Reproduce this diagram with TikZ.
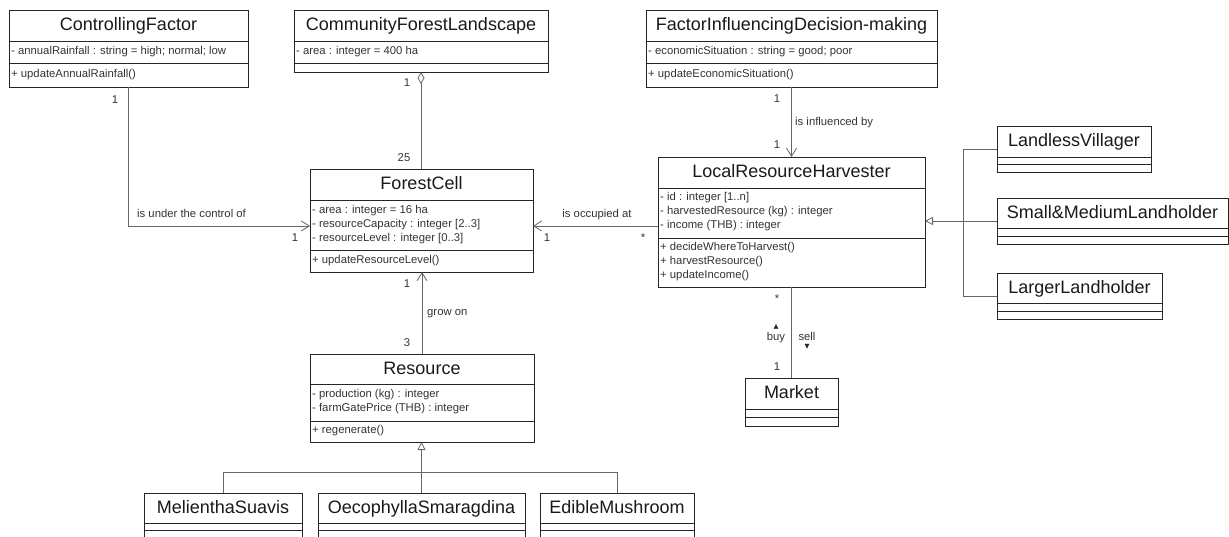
\documentclass[tikz,border=0pt]{standalone}
\usepackage{fontspec}
\setmainfont{Liberation Sans}
\newfontfamily\symbolfont{DejaVu Sans}
\usetikzlibrary{arrows.meta}

% class box: name, left, top, right, first rule, second rule, bottom, title
\newcommand{\umlclass}[8]{%
  \node[classbox, minimum width={#4pt-#2pt}, minimum height={#7pt-#3pt}] (#1) at ({(#2+#4)/2},{(#3+#7)/2}) {};
  \draw[sepline] (#2,#5) -- (#4,#5);
  \draw[sepline] (#2,#6) -- (#4,#6);
  \node[classname] (#1-name) at ({(#2+#4)/2},{(#3+#5)/2}) {#8};
}

\begin{document}
\begin{tikzpicture}[x=1pt, y=-1pt,
  classbox/.style={draw=black!85, line width=0.9pt, inner sep=0pt, outer sep=0pt},
  sepline/.style={draw=black!85, line width=0.9pt},
  classname/.style={inner sep=0pt, text height=13pt, text depth=2.4pt, font=\fontsize{18}{20}\selectfont, text=black!90},
  members/.style={anchor=west, align=left, inner sep=0pt, font=\fontsize{11.3}{14}\selectfont, text=black!80},
  linktext/.style={inner sep=0pt, font=\fontsize{11.3}{13}\selectfont, text=black!80},
  tick/.style={inner sep=0pt, font=\symbolfont\fontsize{6.5}{7}\selectfont, text=black!85},
  link/.style={draw=black!60, line width=0.8pt},
  assoc/.style={link, -{Straight Barb[length=8pt,width=10pt]}},
  aggr/.style={link, {Diamond[open,length=12pt,width=7pt]}-},
  inherit/.style={link, -{Triangle[open,length=8pt,width=8pt]}}
]
\useasboundingbox (0,0) rectangle (1229,537);
\clip (0,0) rectangle (1229,537);

% Top row
\umlclass{cf}{9}{10}{248}{41}{63}{87}{ControllingFactor}
\node[members] (cf-attr) at (11,52) {- annualRainfall : string = high; normal; low};
\node[members] (cf-ops) at (11,75) {+ updateAnnualRainfall()};

\umlclass{cfl}{294}{10}{548}{41}{63}{72}{CommunityForestLandscape}
\node[members] (cfl-attr) at (296,52) {- area : integer = 400 ha};

\umlclass{fid}{646}{10}{937}{41}{63}{87}{FactorInfluencingDecision-making}
\node[members] (fid-attr) at (648,52) {- economicSituation : string = good; poor};
\node[members] (fid-ops) at (648,75) {+ updateEconomicSituation()};

% Middle row
\umlclass{fc}{310}{169}{533}{200}{250}{272}{ForestCell}
\node[members] (fc-attr) at (312,225) {- area : integer = 16 ha\\- resourceCapacity : integer [2..3]\\- resourceLevel : integer [0..3]};
\node[members] (fc-ops) at (312,261) {+ updateResourceLevel()};

\umlclass{lrh}{658}{157}{925}{188}{238}{287}{LocalResourceHarvester}
\node[members] (lrh-attr) at (660,212) {- id : integer [1..n]\\- harvestedResource (kg) : integer\\- income (THB) : integer};
\node[members] (lrh-ops) at (660,262) {+ decideWhereToHarvest()\\+ harvestResource()\\+ updateIncome()};

% Harvester types
\umlclass{lv}{997}{126}{1151}{157}{164}{172}{LandlessVillager}
\umlclass{sml}{997}{198}{1228}{228}{236}{244}{Small\&MediumLandholder}
\umlclass{ll}{997}{273}{1162}{303}{311}{319}{LargerLandholder}

% Resource and market
\umlclass{res}{310}{354}{534}{384}{421}{442}{Resource}
\node[members] (res-attr) at (312,402) {- production (kg) : integer\\- farmGatePrice (THB) : integer};
\node[members] (res-ops) at (312,431) {+ regenerate()};

\umlclass{mkt}{745}{378}{838}{409}{417}{426}{Market}

% Resource types
\umlclass{ms}{144}{493}{302}{523}{530}{560}{MelienthaSuavis}
\umlclass{os}{318}{493}{525}{523}{530}{560}{OecophyllaSmaragdina}
\umlclass{em}{540}{493}{694}{523}{530}{560}{EdibleMushroom}

% is under the control of
\draw[assoc] (cf.south) |- ([yshift=-5.5pt]fc.west);
\node[linktext, anchor=west] (cf-role) at (137,213) {is under the control of};
\node[linktext] (cf-m1) at (115,100) {1};
\node[linktext] (cf-m2) at (295,238) {1};

% aggregation
\draw[aggr] (cfl.south) -- (cfl.south |- fc.north);
\node[linktext] (cfl-m1) at (407,83) {1};
\node[linktext] (cfl-m2) at (404,158) {25};

% is influenced by
\draw[assoc] (fid.south) -- (lrh.north);
\node[linktext, anchor=west] (fid-role) at (795,123) {is influenced by};
\node[linktext] (fid-m1) at (777,99) {1};
\node[linktext] (fid-m2) at (777,145) {1};

% is occupied at
\draw[assoc] ([yshift=-4pt]lrh.west) -- ([yshift=-4pt]lrh.west -| fc.east);
\node[linktext] (lrh-role) at (597,215) {is occupied at};
\node[linktext] (lrh-m1) at (547,238) {1};
\node[linktext] (lrh-m2) at (643,238) {*};

% grow on
\draw[assoc] (res.north) -- (res.north |- fc.south);
\node[linktext, anchor=west] (res-role) at (427,314) {grow on};
\node[linktext] (res-m1) at (407,284) {1};
\node[linktext] (res-m2) at (407,343) {3};

% buy / sell
\draw[link] (lrh.south) -- (lrh.south |- mkt.north);
\node[linktext] (mkt-m1) at (777,299) {*};
\node[linktext] (mkt-m2) at (777,367) {1};
\node[tick] (buy-dir) at (776,327) {▲};
\node[linktext, anchor=base] (buy) at (776,341) {buy};
\node[linktext, anchor=base] (sell) at (807,341) {sell};
\node[tick] (sell-dir) at (807,347) {▼};

% generalisation of harvesters
\draw[inherit] (sml.west) -- (sml.west -| lrh.east);
\draw[link] (lv.west) -- ++(-34,0) |- (ll.west);

% generalisation of resources
\draw[inherit] (os.north) -- (os.north |- res.south);
\draw[link] (ms.north) -- ++(0,-21) -| (em.north);
\end{tikzpicture}
\end{document}
